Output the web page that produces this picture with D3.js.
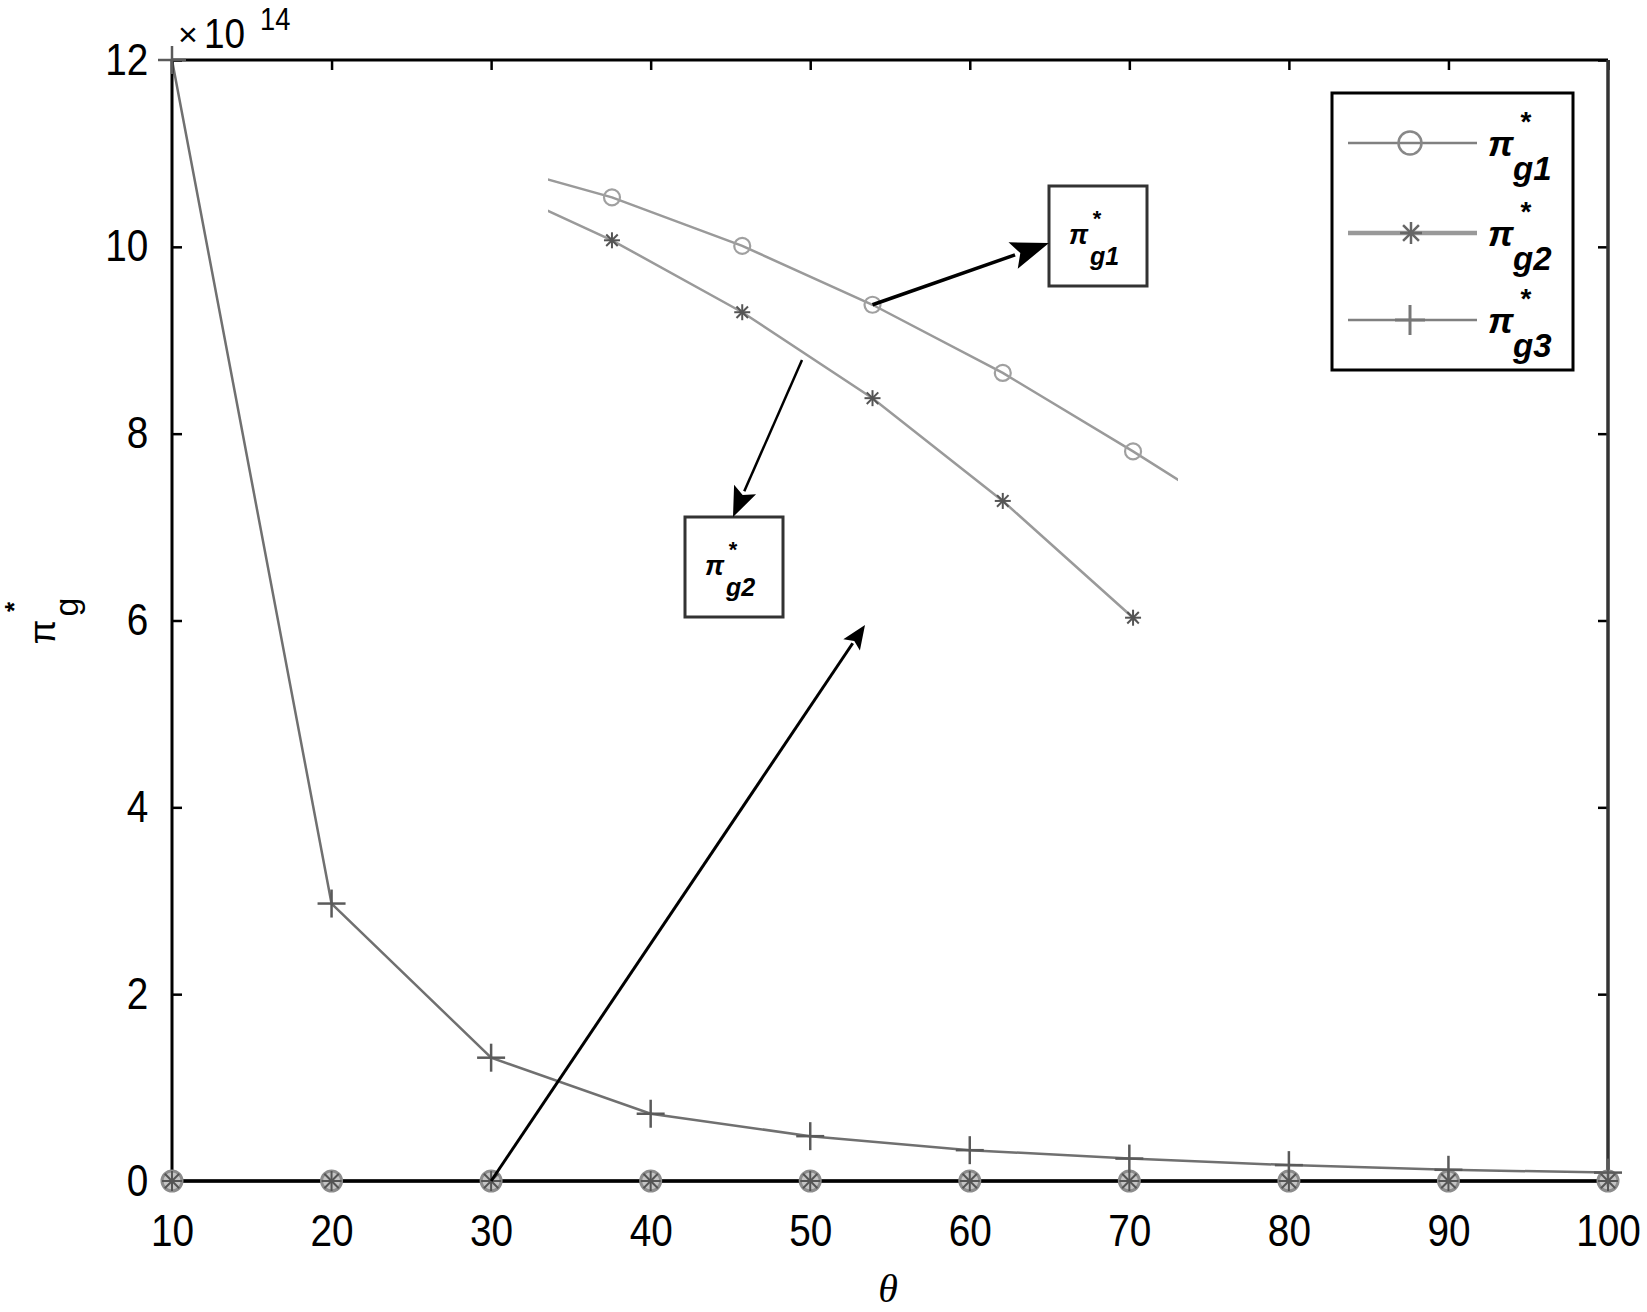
<!DOCTYPE html>
<html>
<head>
<meta charset="utf-8">
<script src="https://cdn.jsdelivr.net/npm/d3@7"></script>
<style>
  html, body { margin: 0; padding: 0; background: #fff; }
  svg { display: block; }
  text { font-family: "Liberation Sans", Arial, sans-serif; }
</style>
</head>
<body>
<svg id="chart" width="1647" height="1312"></svg>
<script>
// ---------------- data ----------------
const theta = [10, 20, 30, 40, 50, 60, 70, 80, 90, 100];
const g1 = [0, 0, 0, 0, 0, 0, 0, 0, 0, 0];
const g2 = [0, 0, 0, 0, 0, 0, 0, 0, 0, 0];
const g3 = [12, 2.97, 1.32, 0.72, 0.48, 0.33, 0.24, 0.17, 0.12, 0.09];

const xTicks = [10, 20, 30, 40, 50, 60, 70, 80, 90, 100];
const yTicks = [0, 2, 4, 6, 8, 10, 12];

// magnified (inset) view of g1 and g2, axes hidden
const insetTheta = [10, 20, 30, 40, 50, 60, 70];
const insetG1 = [10.92, 10.53, 10.01, 9.38, 8.65, 7.81, 6.93];
const insetG2 = [10.71, 10.07, 9.30, 8.38, 7.28, 6.03, 4.64];
const insetDomainX = [15.09, 63.45];
const insetDomainY = [6.0, 11.3];

const seriesNames = ["g1", "g2", "g3"];

// ---------------- layout ----------------
const L = 172, R = 1608, T = 60, B = 1181;
const svg = d3.select("#chart");

const x = d3.scaleLinear().domain([10, 100]).range([L, R]);
const y = d3.scaleLinear().domain([0, 12]).range([B, T]);

const SX = 0.88; // horizontal squeeze of tick font
const tickFont = 44;

// axes
const gl = svg.append("g").attr("transform", `translate(${L},0)`)
  .call(d3.axisLeft(y).tickValues(yTicks).tickSizeInner(-10).tickSizeOuter(0).tickPadding(27));
const gb = svg.append("g").attr("transform", `translate(0,${B})`)
  .call(d3.axisBottom(x).tickValues(xTicks).tickSizeInner(-10).tickSizeOuter(0).tickPadding(34));
const gr = svg.append("g").attr("transform", `translate(${R},0)`)
  .call(d3.axisRight(y).tickValues(yTicks).tickSizeInner(-10).tickSizeOuter(0).tickFormat(""));
const gt = svg.append("g").attr("transform", `translate(0,${T})`)
  .call(d3.axisTop(x).tickValues(xTicks).tickSizeInner(-10).tickSizeOuter(0).tickFormat(""));

[gl, gb, gr, gt].forEach(g => {
  g.select(".domain").remove();
  g.selectAll(".tick line").attr("stroke", "#000").attr("stroke-width", 2.5);
  g.selectAll(".tick text")
    .attr("fill", "#000")
    .style("font-size", tickFont + "px")
    .style("font-family", "'Liberation Sans', Arial, sans-serif")
    .attr("transform", `scale(${SX},1)`);
});

// ---------------- lines & markers ----------------
const line = d3.line().x((d, i) => x(theta[i])).y(d => y(d));

function asterisk(g, cx, cy, r, color, w) {
  const a = r * 0.72;
  [[-r,0,r,0],[0,-r,0,r],[-a,-a,a,a],[-a,a,a,-a]].forEach(s => {
    g.append("line").attr("x1", cx + s[0]).attr("y1", cy + s[1])
      .attr("x2", cx + s[2]).attr("y2", cy + s[3])
      .attr("stroke", color).attr("stroke-width", w);
  });
}
function plus(g, cx, cy, r, color, w) {
  g.append("line").attr("x1", cx - r).attr("y1", cy).attr("x2", cx + r).attr("y2", cy)
    .attr("stroke", color).attr("stroke-width", w);
  g.append("line").attr("x1", cx).attr("y1", cy - r).attr("x2", cx).attr("y2", cy + r)
    .attr("stroke", color).attr("stroke-width", w);
}
function circle(g, cx, cy, r, color, w, fill) {
  g.append("circle").attr("cx", cx).attr("cy", cy).attr("r", r)
    .attr("fill", fill || "none").attr("stroke", color).attr("stroke-width", w);
}

const plot = svg.append("g");
plot.append("path").datum(g1).attr("d", line).attr("fill", "none").attr("stroke", "#8a8a8a").attr("stroke-width", 3);
plot.append("path").datum(g2).attr("d", line).attr("fill", "none").attr("stroke", "#8a8a8a").attr("stroke-width", 3);
plot.append("path").datum(g3).attr("d", line).attr("fill", "none").attr("stroke", "#707070").attr("stroke-width", 2.5);

// axis frame (on top of zero lines)
svg.append("line").attr("x1", L).attr("x2", R).attr("y1", B).attr("y2", B).attr("stroke", "#000").attr("stroke-width", 3.5);
svg.append("line").attr("x1", L).attr("x2", R).attr("y1", T).attr("y2", T).attr("stroke", "#000").attr("stroke-width", 3);
svg.append("line").attr("x1", L).attr("x2", L).attr("y1", T).attr("y2", B).attr("stroke", "#000").attr("stroke-width", 3);
svg.append("line").attr("x1", R).attr("x2", R).attr("y1", T).attr("y2", B).attr("stroke", "#333").attr("stroke-width", 3.5);

const mk = svg.append("g");
g1.forEach((v, i) => circle(mk, x(theta[i]), y(v), 10, "#8c8c8c", 3, "#c4c4c4"));
g2.forEach((v, i) => asterisk(mk, x(theta[i]), y(v), 10, "#555", 2));
g3.forEach((v, i) => plus(mk, x(theta[i]), y(v), 14, "#5a5a5a", 2.5));

// ---------------- inset ----------------
const xi = d3.scaleLinear().domain(insetDomainX).range([548, 1178]);
const yi = y; // inset values read on the same vertical scale
svg.append("clipPath").attr("id", "insetClip").append("rect")
  .attr("x", xi(insetDomainX[0])).attr("y", yi(insetDomainY[1]))
  .attr("width", xi(insetDomainX[1]) - xi(insetDomainX[0]))
  .attr("height", yi(insetDomainY[0]) - yi(insetDomainY[1]));
const iline = d3.line().x((d, i) => xi(insetTheta[i])).y(d => yi(d));
const ig = svg.append("g");
ig.append("path").datum(insetG1).attr("d", iline).attr("clip-path", "url(#insetClip)")
  .attr("fill", "none").attr("stroke", "#9a9a9a").attr("stroke-width", 2.5);
ig.append("path").datum(insetG2).attr("d", iline).attr("clip-path", "url(#insetClip)")
  .attr("fill", "none").attr("stroke", "#9a9a9a").attr("stroke-width", 2.5);
insetTheta.forEach((t, i) => {
  if (t < insetDomainX[0] || t > insetDomainX[1]) return;
  circle(ig, xi(t), yi(insetG1[i]), 8, "#a0a0a0", 2.2);
  asterisk(ig, xi(t), yi(insetG2[i]), 8, "#555", 2);
});

// ---------------- annotations ----------------
function arrow(x1, y1, x2, y2, hl, hw, w) {
  const g = svg.append("g");
  const dx = x2 - x1, dy = y2 - y1, len = Math.hypot(dx, dy);
  const ux = dx / len, uy = dy / len;
  const bx = x2 - ux * hl, by = y2 - uy * hl;
  g.append("line").attr("x1", x1).attr("y1", y1).attr("x2", bx + ux * 2).attr("y2", by + uy * 2)
    .attr("stroke", "#000").attr("stroke-width", w);
  g.append("polygon").attr("points",
    `${x2},${y2} ${bx - uy * hw},${by + ux * hw} ${bx + ux * hl * 0.2},${by + uy * hl * 0.2} ${bx + uy * hw},${by - ux * hw}`)
    .attr("fill", "#000");
}

function piLabel(g, px, py, gx, gy, sx, sy, piSize, gSize, starSize, sub) {
  g.append("text").attr("x", px).attr("y", py).text("π")
    .style("font-size", piSize + "px").style("font-weight", "bold").style("font-style", "italic");
  g.append("text").attr("x", gx).attr("y", gy).text("g" + sub)
    .style("font-size", gSize + "px").style("font-weight", "bold").style("font-style", "italic");
  g.append("text").attr("x", sx).attr("y", sy).attr("text-anchor", "middle").text("*")
    .style("font-size", starSize + "px").style("font-weight", "bold");
}

const boxes = [
  { x: 1049, y: 186, sub: "1" },
  { x: 685, y: 517, sub: "2" }
];
boxes.forEach(b => {
  const g = svg.append("g");
  g.append("rect").attr("x", b.x).attr("y", b.y).attr("width", 98).attr("height", 100)
    .attr("fill", "#fff").attr("stroke", "#333").attr("stroke-width", 3);
  piLabel(g, b.x + 20, b.y + 58, b.x + 41, b.y + 79, b.x + 48, b.y + 40, 27, 25, 22, b.sub);
});

arrow(xi(40), yi(insetG1[3]), 1049, 243, 38, 14, 3.5);
arrow(802, 360, 733, 517, 30, 12, 2.5);
arrow(x(30), y(0), 865, 625, 24, 10, 3);

// ---------------- legend ----------------
const lg = svg.append("g");
lg.append("rect").attr("x", 1332).attr("y", 93).attr("width", 241).attr("height", 277)
  .attr("fill", "#fff").attr("stroke", "#000").attr("stroke-width", 3);
const legY = [143, 233, 320];
seriesNames.forEach((s, i) => {
  const ly = legY[i];
  lg.append("line").attr("x1", 1348).attr("x2", 1477).attr("y1", ly).attr("y2", ly)
    .attr("stroke", i === 1 ? "#999" : "#808080").attr("stroke-width", i === 1 ? 4.5 : 2.5);
  if (i === 0) circle(lg, 1410, ly, 11.5, "#888", 2.5);
  if (i === 1) asterisk(lg, 1411, ly, 11, "#666", 2.5);
  if (i === 2) plus(lg, 1410, ly, 15, "#777", 3);
  piLabel(lg, 1488, ly + 13, 1513, ly + 37, 1526, ly - 12, 36, 33, 28, s.slice(1));
});

// ---------------- axis labels ----------------
svg.append("text").attr("x", 888).attr("y", 1302).attr("text-anchor", "middle").text("θ")
  .style("font-family", "'Liberation Serif', 'DejaVu Serif', serif")
  .style("font-style", "italic").style("font-size", "40px");

const yl = svg.append("g").attr("transform", "translate(45,632) rotate(-90)");
yl.append("text").attr("x", 0).attr("y", 10).attr("text-anchor", "middle").text("π")
  .style("font-size", "36px");
yl.append("text").attr("x", 25).attr("y", 33).attr("text-anchor", "middle").text("g")
  .style("font-size", "34px");
yl.append("text").attr("x", 25).attr("y", -22).attr("text-anchor", "middle").text("*")
  .style("font-size", "26px").style("font-weight", "bold");

// exponent
const ex = svg.append("g");
ex.append("text").attr("x", 178).attr("y", 46).text("×")
  .style("font-size", "34px");
ex.append("text").attr("x", 204 / SX).attr("y", 48).attr("transform", `scale(${SX},1)`).text("10")
  .style("font-size", "42px");
ex.append("text").attr("x", 260 / SX).attr("y", 30).attr("transform", `scale(${SX},1)`).text("14")
  .style("font-size", "31px");
</script>
</body>
</html>
